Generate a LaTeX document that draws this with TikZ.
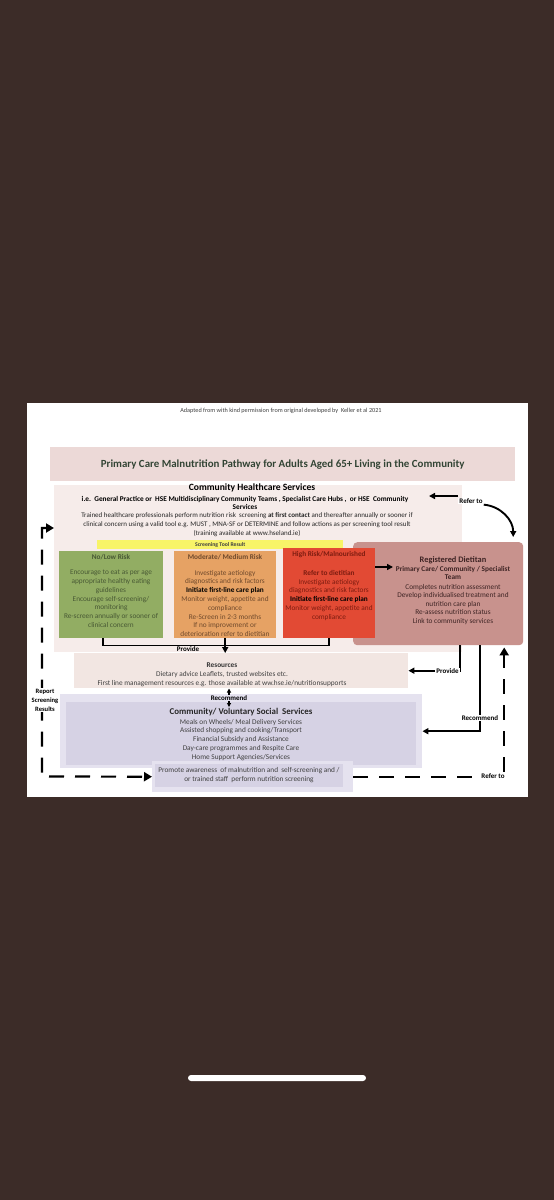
\documentclass[tikz,border=0pt]{standalone}
\usepackage{fontspec}
\setmainfont{Carlito}
\usetikzlibrary{positioning,arrows.meta}

\definecolor{phone}{RGB}{60,44,40}
\definecolor{titlepink}{RGB}{236,217,215}
\definecolor{panelpink}{RGB}{246,236,234}
\definecolor{titlegreen}{RGB}{50,68,52}
\definecolor{lowgreen}{RGB}{146,173,99}
\definecolor{lowtext}{RGB}{72,88,52}
\definecolor{modorange}{RGB}{230,162,100}
\definecolor{modtext}{RGB}{112,74,44}
\definecolor{highred}{RGB}{226,74,52}
\definecolor{hightext}{RGB}{125,28,16}
\definecolor{dietrose}{RGB}{200,146,141}
\definecolor{diettext}{RGB}{62,36,36}
\definecolor{respink}{RGB}{242,230,226}
\definecolor{lavlight}{RGB}{229,226,239}
\definecolor{lavdark}{RGB}{214,210,228}
\definecolor{screenyellow}{RGB}{248,244,104}

\begin{document}
\begin{tikzpicture}[x=1pt, y=-1pt, font=\fontsize{7.3}{8.8}\selectfont,
  box/.style={rectangle, inner sep=0pt, anchor=north west},
  boxtext/.style={align=center, anchor=north, inner sep=0pt},
  headtext/.style={font=\bfseries\fontsize{7.3}{8.8}\selectfont, inner sep=0pt},
  tag/.style={font=\bfseries\fontsize{7}{8.6}\selectfont, inner sep=1pt, fill=white},
  link/.style={line width=1.6pt, -{Triangle[length=6pt, width=6pt]}},
  dashlink/.style={line width=2.2pt, dash pattern=on 15pt off 11pt}]

% phone screen
\useasboundingbox (0,0) rectangle (554,1200);
\fill[phone] (0,0) rectangle (554,1200);
\fill[white] (27,403) rectangle (528,797);
\fill[white, rounded corners=3pt] (188,1075) rectangle (366,1081);

% heading
\node[font=\fontsize{6.2}{7}\selectfont, text=black!75] (adapted) at (281,411)
  {Adapted from with kind permission from original developed by\ \ Keller et al 2021};
\node[box, fill=titlepink, minimum width=465, minimum height=34] (titlebar) at (50,447) {};
\node[font=\bfseries\fontsize{10.9}{12}\selectfont, text=titlegreen] (title) at (titlebar.center)
  {Primary Care Malnutrition Pathway for Adults Aged 65+ Living in the Community};

% community healthcare services
\node[box, fill=panelpink, minimum width=408, minimum height=167] (chs) at (54,485) {};
\node[font=\bfseries\fontsize{9.6}{11}\selectfont] (chshead) at (252,488) {Community Healthcare Services};
\node[boxtext, font=\bfseries\fontsize{7.3}{8}\selectfont] (chsteams) at (245,495.9)
  {i.e.\ \ General Practice or\ \ HSE Multidisciplinary Community Teams , Specialist Care Hubs ,\ \ or HSE\ \ Community\\Services};
\node[boxtext, font=\fontsize{7}{9}\selectfont, text=black!85] (chstext) at (247,512)
  {Trained healthcare professionals perform nutrition risk\ \ screening \textbf{at first contact} and thereafter annually or sooner if\\
   clinical concern using a valid tool e.g. MUST , MNA-SF or DETERMINE and follow actions as per screening tool result\\
   (training available at www.hseland.ie)};

% screening results
\node[box, fill=screenyellow, minimum width=246, minimum height=9] (screen) at (97,540) {};
\node[font=\bfseries\fontsize{5.7}{6}\selectfont, text=black!75, inner sep=0pt] at (screen.center) {Screening Tool Result};

\node[box, fill=dietrose, rounded corners=4pt, minimum width=170, minimum height=103] (diet) at (353,542) {};

\node[box, fill=lowgreen, minimum width=104, minimum height=87] (low) at (59,551) {};
\node[headtext, text=lowtext] at (111,557) {No/Low Risk};
\node[boxtext, text=lowtext] at (111,569.9)
  {Encourage to eat as per age\\appropriate healthy eating\\guidelines\\Encourage self-screening/\\monitoring\\Re-screen annually or sooner of\\clinical concern};

\node[box, fill=modorange, minimum width=102, minimum height=87] (mod) at (174,551) {};
\node[headtext, text=modtext] at (225,557) {Moderate/ Medium Risk};
\node[boxtext, text=modtext] at (225,569.9)
  {Investigate aetiology\\diagnostics and risk factors\\\textcolor{black}{\textbf{Initiate first-line care plan}}\\Monitor weight, appetite and\\compliance\\Re-Screen in 2-3 months\\If no improvement or\\deterioration refer to dietitian};

\node[box, fill=highred, minimum width=92, minimum height=90] (high) at (283,548) {};
\node[headtext, text=hightext] at (329,555) {High Risk/Malnourished};
\node[boxtext, text=hightext] at (329,569.9)
  {\textbf{Refer to dietitian}\\Investigate aetiology\\diagnostics and risk factors\\\textcolor{black}{\textbf{Initiate first-line care plan}}\\Monitor weight, appetite and\\compliance};

% dietitian
\node[font=\bfseries\fontsize{8.4}{10}\selectfont, text=diettext, inner sep=0pt] at (453,560) {Registered Dietitan};
\node[boxtext, font=\bfseries\fontsize{7.3}{8.3}\selectfont, text=diettext] at (453,565.9)
  {Primary Care/ Community / Specialist\\Team};
\node[boxtext, font=\fontsize{7.3}{8.5}\selectfont, text=diettext] at (453,583.9)
  {Completes nutrition assessment\\Develop individualised treatment and\\nutrition care plan\\Re-assess nutrition status\\Link to community services};

% resources
\node[box, fill=respink, minimum width=334, minimum height=35] (res) at (74,653) {};
\node[headtext, text=black!80] at (222,665) {Resources};
\node[boxtext, text=black!75, font=\fontsize{7.3}{9}\selectfont] at (222,670.9)
  {Dietary advice Leaflets, trusted websites etc.\\First line management resources e.g. those available at ww.hse.ie/nutritionsupports};

% community / voluntary services
\node[box, fill=lavlight, minimum width=362, minimum height=74] (comout) at (60,694) {};
\node[box, fill=lavdark, minimum width=350, minimum height=63] (comin) at (66,702) {};
\node[font=\bfseries\fontsize{8.9}{10}\selectfont, text=black!85, inner sep=0pt] at (241,712) {Community/ Voluntary Social\ \ Services};
\node[boxtext, text=black!75, font=\fontsize{7.3}{8.75}\selectfont] at (241,718.9)
  {Meals on Wheels/ Meal Delivery Services\\Assisted shopping and cooking/Transport\\Financial Subsidy and Assistance\\Day-care programmes and Respite Care\\Home Support Agencies/Services};
\node[box, fill=lavlight, minimum width=201, minimum height=31] (prom) at (152,761) {};
\node[box, fill=lavdark, minimum width=188, minimum height=23] (promin) at (155,764) {};
\node[boxtext, text=black!75, font=\fontsize{7.3}{9}\selectfont] at (249,766.9)
  {Promote awareness\ \ of malnutrition and\ \ self-screening and /\\or trained staff\ \ perform nutrition screening};

% connectors
\coordinate (chsright) at (429,496);
\node[tag] (refer) at (471,501) {Refer to};
\draw[link, line width=1.9pt] (refer.west |- chsright) -- (chsright);
\draw[link, line width=1.9pt] (refer.south east) to[out=-5, in=90] ([xshift=75pt, yshift=5pt]diet.north);
\draw[link, line width=2pt] (high.east |- 0,567) -- (393,567);

\draw[line width=1.5pt] ([xshift=-8pt]low.south) -- ++(0,7) -| (high.south);
\node[font=\bfseries\fontsize{7}{8}\selectfont, inner sep=0pt] at (188,649.5) {Provide};
\draw[link] (mod.south) -- (mod.south |- res.north);

\draw[line width=1.2pt, {Triangle[length=4pt, width=4pt]}-{Triangle[length=4pt, width=4pt]}]
  (229,688.5) -- (229,707);
\node[tag, fill=lavlight, inner sep=0.5pt] (recmid) at (229,698) {Recommend};

\draw[link] ([xshift=22pt]diet.south) |- (res.east);
\node[tag] at (447.5,671) {Provide};
\draw[link] ([xshift=42pt]diet.south) |- (comout.east);
\node[tag] at (480,718) {Recommend};

\draw[dashlink, -{Triangle[length=8pt, width=9pt]}] (prom.east) -| ([xshift=66pt, yshift=-2pt]diet.south);
\node[tag] at (493,776.5) {Refer to};

\draw[dashlink, {Triangle[length=8pt, width=9pt]}-{Triangle[length=8pt, width=9pt]}]
  (chs.west |- 0,528) -- (42,528) -- (42,776.5) -- (prom.west);
\node[tag, align=center, font=\bfseries\fontsize{6.6}{9}\selectfont] at (45,700) {Report\\Screening\\Results};

\end{tikzpicture}
\end{document}
